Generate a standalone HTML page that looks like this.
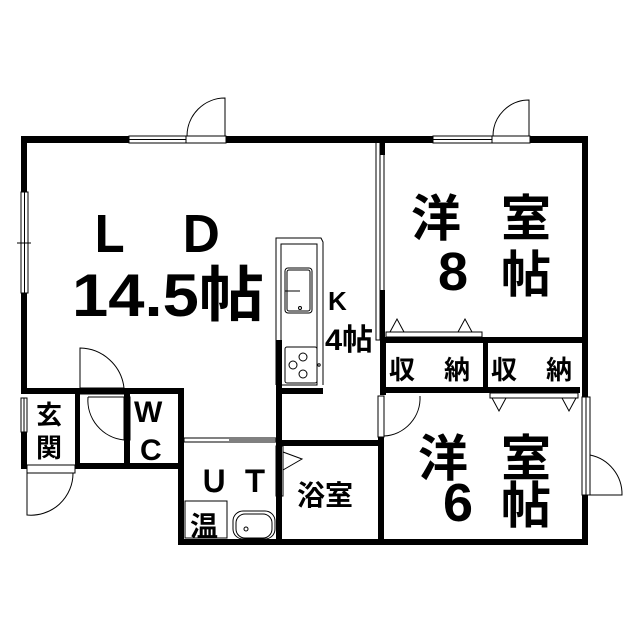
<!DOCTYPE html>
<html><head><meta charset="utf-8"><style>
html,body{margin:0;padding:0;background:#fff;}
svg{display:block}
text{font-family:"Liberation Sans","Noto Sans CJK JP",sans-serif;fill:#000;font-weight:bold;}
</style></head><body>
<svg width="640" height="640" viewBox="0 0 640 640" xmlns="http://www.w3.org/2000/svg">
<g fill="#000">
<rect x="21" y="136" width="108" height="7"/>
<rect x="226" y="136" width="207" height="7"/>
<rect x="530" y="136" width="58" height="7"/>
<rect x="21" y="136" width="6" height="56"/>
<rect x="21" y="293" width="6" height="101"/>
<rect x="21" y="432" width="6" height="37"/>
<rect x="582" y="136" width="6" height="261"/>
<rect x="582" y="495" width="6" height="50"/>
<rect x="178" y="539" width="410" height="6"/>
<rect x="380" y="140" width="5" height="15"/>
<rect x="380" y="290" width="5" height="52"/>
<rect x="380" y="337" width="208" height="6"/>
<rect x="380" y="387" width="200" height="6"/>
<rect x="483" y="340" width="5" height="53"/>
<rect x="380" y="340" width="6" height="55"/>
<rect x="378" y="437" width="6" height="108"/>
<rect x="276" y="340" width="6" height="205"/>
<rect x="276" y="388" width="47" height="6"/>
<rect x="276" y="440" width="108" height="6"/>
<rect x="178" y="388" width="6" height="157"/>
<rect x="21" y="388" width="163" height="6"/>
<rect x="75" y="463" width="109" height="6"/>
<rect x="124" y="388" width="6" height="80"/>
<rect x="75" y="388" width="5" height="81"/>
</g>
<g fill="none" stroke="#000" stroke-width="1">
<rect x="129" y="136" width="57" height="7"/><line x1="129" y1="139.5" x2="186" y2="139.5"/>
<rect x="186" y="136" width="40" height="7"/>
<path d="M187 136 A38 38 0 0 1 225 98 L225 136"/>
<rect x="433" y="136" width="59" height="7"/><line x1="433" y1="139.5" x2="492" y2="139.5"/>
<rect x="492" y="136" width="38" height="7"/>
<path d="M493 136 A36 36 0 0 1 529 100 L529 136"/>
<rect x="21" y="192" width="7" height="101"/><line x1="24.5" y1="192" x2="24.5" y2="293"/><line x1="17" y1="243" x2="31" y2="243"/>
<rect x="376" y="142" width="8" height="198"/><line x1="380" y1="142" x2="380" y2="340"/>
<rect x="582" y="397" width="8" height="98"/><line x1="586" y1="397" x2="586" y2="495"/>
<path d="M590 455 A40 40 0 0 1 622 495 L590 495"/>
<rect x="386" y="332" width="96" height="5"/>
<path d="M390 332 L397 319 L404 332 M458 332 L465 319 L472 332"/>
<rect x="490" y="393" width="88" height="5"/>
<path d="M492 398 L499 411 L506 398 M562 398 L569 411 L576 398"/>
<rect x="378" y="396" width="6" height="41"/>
<path d="M420 396 A38 38 0 0 1 384 436"/>
<path d="M276 385 L276 238 L321 238 L323 242 L323 385"/>
<rect x="281" y="244" width="36" height="141"/>
<rect x="285" y="268" width="27" height="45" rx="3"/>
<rect x="287" y="270" width="23" height="41" rx="2"/>
<line x1="285" y1="291" x2="300" y2="291"/><circle cx="300" cy="308" r="1.5"/>
<rect x="285" y="347" width="32" height="36" rx="2"/>
<circle cx="293" cy="365" r="4"/><circle cx="303" cy="357" r="4"/><circle cx="303" cy="374" r="4"/>
<circle cx="319" cy="365" r="1.2"/>
<rect x="276" y="446" width="7" height="50"/>
<path d="M283 452 L302 459 L283 470"/>
<rect x="184" y="438" width="92" height="4"/><line x1="229" y1="440" x2="276" y2="440"/>
<rect x="185" y="501" width="42" height="37"/>
<rect x="233" y="511" width="42" height="28" rx="10"/>
<rect x="236" y="514" width="36" height="24" rx="9"/>
<circle cx="246" cy="529" r="2"/>
<rect x="80" y="388" width="44" height="6"/>
<path d="M80 388 L80 348 A45 45 0 0 1 124 388"/>
<path d="M88 397 L124 397 L124 440 A40 40 0 0 1 88 397"/>
<rect x="124" y="397" width="6" height="43"/>
<rect x="21" y="398" width="6" height="34"/><line x1="24" y1="398" x2="24" y2="432"/>
<rect x="27" y="465" width="48" height="8"/>
<path d="M27 473 L27 515 A42 42 0 0 0 73 473"/>
</g>
<g font-size="50">
<text x="84" y="252">Ｌ</text><text x="176" y="252">Ｄ</text>
</g>
<text x="72" y="316" font-size="60" textLength="192" lengthAdjust="spacingAndGlyphs">14.5帖</text>
<text x="328" y="310" font-size="26">K</text>
<text x="325" y="350" font-size="30" textLength="48" lengthAdjust="spacingAndGlyphs">4帖</text>
<g font-size="50">
<text x="411" y="236">洋</text><text x="501" y="236">室</text>
<text x="438" y="290" font-size="54">8</text><text x="501" y="292">帖</text>
<text x="418" y="476">洋</text><text x="501" y="476">室</text>
<text x="443" y="521" font-size="54">6</text><text x="501" y="523">帖</text>
</g>
<g font-size="26">
<text x="389" y="379">収</text><text x="444" y="379">納</text>
<text x="491" y="379">収</text><text x="546" y="379">納</text>
</g>
<g font-size="26">
<text x="36" y="424">玄</text><text x="36" y="457">関</text>
<text x="134" y="422" font-size="30">W</text><text x="140" y="460" font-size="30">C</text>
<text x="199" y="492" font-size="30">Ｕ</text><text x="240" y="492" font-size="30">Ｔ</text>
<text x="190" y="536" font-size="28">温</text>
<text x="297" y="505" font-size="28">浴室</text>
</g>
</svg>
</body></html>
